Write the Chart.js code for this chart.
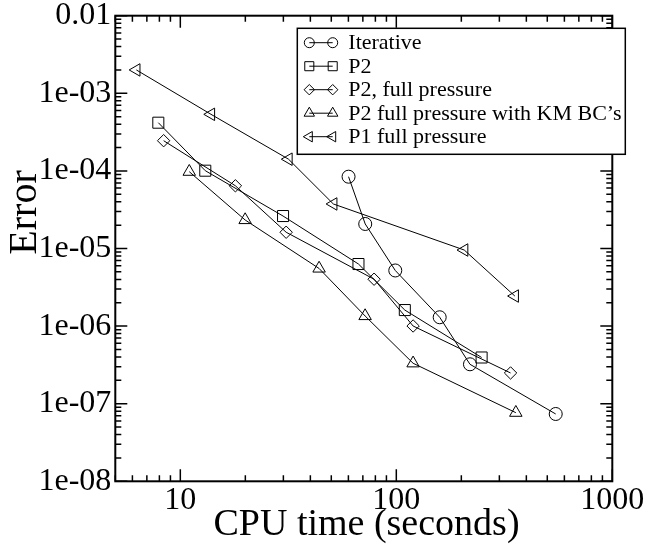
<!DOCTYPE html>
<html><head><meta charset="utf-8">
<script src="https://cdn.jsdelivr.net/npm/chart.js@4/dist/chart.umd.min.js"></script>
<style>html,body{margin:0;padding:0;background:#fff;}canvas{display:block;}</style>
</head><body>
<canvas id="c" width="645" height="550"></canvas>
<script>
// ---- data ----
const seriesNames = ['Iterative', 'P2', 'P2, full pressure', 'P2 full pressure with KM BC\u2019s', 'P1 full pressure'];
const iterX = [60.1, 71.8, 98.9, 158.8, 219.3, 547];
const iterY = [8.42e-5, 2.07e-5, 5.21e-6, 1.30e-6, 3.22e-7, 7.37e-8];
const p2X = [7.91, 13.05, 29.9, 66.8, 109.5, 248.3];
const p2Y = [4.18e-4, 1.006e-4, 2.62e-5, 6.31e-6, 1.61e-6, 3.94e-7];
const p2fX = [8.37, 17.99, 30.9, 78.9, 119.6, 338];
const p2fY = [2.45e-4, 6.43e-5, 1.62e-5, 4.02e-6, 1.003e-6, 2.49e-7];
const kmX = [11.0, 19.96, 43.9, 71.7, 119.6, 357.6];
const kmY = [9.77e-5, 2.33e-5, 5.53e-6, 1.35e-6, 3.32e-7, 7.66e-8];
const p1X = [6.26, 13.87, 31.7, 51.1, 206.3, 353.8];
const p1Y = [2.0e-3, 5.36e-4, 1.415e-4, 3.75e-5, 9.56e-6, 2.44e-6];

const xTickValues = [10, 100, 1000];
const xTickLabels = ['10', '100', '1000'];
const yTickValues = [1e-8, 1e-7, 1e-6, 1e-5, 1e-4, 1e-3, 1e-2];
const yTickLabels = ['1e-08', '1e-07', '1e-06', '1e-05', '1e-04', '1e-03', '0.01'];
const xTitle = 'CPU time (seconds)';
const yTitle = 'Error';

const FONT = "'Liberation Serif', 'Times New Roman', serif";

const markerStyles = [
  {style: 'circle', r: 6.5, rot: 0, lr: 5},
  {style: 'rect', r: 7.8, rot: 0, lr: 6.4},
  {style: 'rectRot', r: 6.2, rot: 0, lr: 5.2},
  {style: 'triangle', r: 7.2, rot: 0, lr: 6},
  {style: 'triangle', r: 7.2, rot: -90, lr: 6}
];
const xs = [iterX, p2X, p2fX, kmX, p1X];
const ys = [iterY, p2Y, p2fY, kmY, p1Y];

const datasets = seriesNames.map((name, k) => ({
  label: name,
  data: xs[k].map((x, i) => ({x: x, y: ys[k][i]})),
  showLine: true,
  borderColor: '#000',
  borderWidth: 1,
  pointStyle: markerStyles[k].style,
  pointRadius: markerStyles[k].r,
  pointHoverRadius: markerStyles[k].r,
  pointRotation: markerStyles[k].rot,
  pointBorderWidth: 1,
  pointBorderColor: '#000',
  pointBackgroundColor: 'rgba(0,0,0,0)',
  fill: false,
  tension: 0
}));

function drawMarker(ctx, style, x, y, r, rotDeg) {
  const rad = rotDeg * Math.PI / 180;
  ctx.beginPath();
  if (style === 'circle') {
    ctx.arc(x, y, r, 0, Math.PI * 2);
  } else if (style === 'rect') {
    const s = Math.SQRT1_2 * r;
    ctx.rect(x - s, y - s, 2 * s, 2 * s);
  } else if (style === 'rectRot') {
    ctx.moveTo(x - r, y); ctx.lineTo(x, y - r); ctx.lineTo(x + r, y); ctx.lineTo(x, y + r); ctx.closePath();
  } else if (style === 'triangle') {
    let a = rad;
    ctx.moveTo(x + Math.sin(a) * r, y - Math.cos(a) * r);
    a += 2 * Math.PI / 3;
    ctx.lineTo(x + Math.sin(a) * r, y - Math.cos(a) * r);
    a += 2 * Math.PI / 3;
    ctx.lineTo(x + Math.sin(a) * r, y - Math.cos(a) * r);
    ctx.closePath();
  }
  ctx.stroke();
}

const framePlugin = {
  id: 'frame',
  afterDraw(chart) {
    const ctx = chart.ctx;
    const a = chart.chartArea;
    const sx = chart.scales.x, sy = chart.scales.y;
    ctx.save();
    ctx.strokeStyle = '#000';
    // ticks
    ctx.lineWidth = 1.5;
    const xMin = sx.min, xMax = sx.max;
    for (let d = 1; d <= 1000; d *= 10) {
      for (let m = 1; m <= 9; m++) {
        const v = d * m;
        if (v < xMin - 1e-9 || v > xMax + 1e-9) continue;
        const px = sx.getPixelForValue(v);
        const len = m === 1 ? 12 : 6;
        ctx.beginPath();
        ctx.moveTo(px, a.bottom); ctx.lineTo(px, a.bottom - len);
        ctx.moveTo(px, a.top); ctx.lineTo(px, a.top + len);
        ctx.stroke();
      }
    }
    for (let e = -8; e <= -2; e++) {
      for (let m = 1; m <= 9; m++) {
        const v = m * Math.pow(10, e);
        if (v > sy.max * 1.0001) continue;
        const py = sy.getPixelForValue(v);
        const len = m === 1 ? 12 : 6;
        ctx.beginPath();
        ctx.moveTo(a.left, py); ctx.lineTo(a.left + len, py);
        ctx.moveTo(a.right, py); ctx.lineTo(a.right - len, py);
        ctx.stroke();
      }
    }
    // frame
    ctx.lineWidth = 2;
    ctx.strokeRect(a.left, a.top, a.right - a.left, a.bottom - a.top);

    // axis titles
    ctx.fillStyle = '#000';
    ctx.font = '38px ' + FONT;
    ctx.textAlign = 'center';
    ctx.textBaseline = 'alphabetic';
    ctx.fillText(xTitle, 366.5, 535);
    ctx.save();
    ctx.translate(36, 212.5);
    ctx.rotate(-Math.PI / 2);
    ctx.font = '40px ' + FONT;
    ctx.fillText(yTitle, 0, 0);
    ctx.restore();

    // legend
    const lx = 297.3, ly = 28.3, lw = 328, lh = 126;
    ctx.fillStyle = '#fff';
    ctx.fillRect(lx, ly, lw, lh);
    ctx.lineWidth = 1.5;
    ctx.strokeRect(lx, ly, lw, lh);
    ctx.font = '22px ' + FONT;
    ctx.textAlign = 'left';
    ctx.textBaseline = 'middle';
    chart.data.datasets.forEach((ds, i) => {
      const yy = 42.7 + i * 23.5;
      const ms = markerStyles[i];
      ctx.lineWidth = 1;
      ctx.beginPath();
      ctx.moveTo(309.3, yy); ctx.lineTo(332.7, yy);
      ctx.stroke();
      drawMarker(ctx, ms.style, 309.3, yy, ms.lr, ms.rot);
      drawMarker(ctx, ms.style, 332.7, yy, ms.lr, ms.rot);
      ctx.fillStyle = '#000';
      ctx.fillText(ds.label, 348.3, yy + 1);
    });
    ctx.restore();
  }
};

new Chart(document.getElementById('c'), {
  type: 'scatter',
  data: {datasets: datasets},
  plugins: [framePlugin],
  options: {
    responsive: false,
    devicePixelRatio: 1,
    animation: false,
    layout: {padding: {left: 0, right: 32.7, top: 15.7, bottom: 0}},
    plugins: {legend: {display: false}, tooltip: {enabled: false}, title: {display: false}},
    scales: {
      x: {
        type: 'logarithmic', position: 'bottom', min: 5, max: 1000,
        grid: {display: false, drawTicks: false},
        border: {display: false},
        ticks: {
          autoSkip: false, maxRotation: 0, minRotation: 0, color: '#000', padding: 3,
          font: {family: FONT, size: 32, lineHeight: 1},
          callback: (v, i) => xTickLabels[i]
        },
        afterBuildTicks: s => { s.ticks = xTickValues.map(v => ({value: v})); },
        afterFit: s => { s.height = 68.7; s.paddingLeft = 0; s.paddingRight = 0; }
      },
      y: {
        type: 'logarithmic', position: 'left', min: 1e-8, max: 1e-2,
        grid: {display: false, drawTicks: false},
        border: {display: false},
        ticks: {
          autoSkip: false, color: '#000', padding: 4,
          font: {family: FONT, size: 32, lineHeight: 1},
          callback: (v, i) => yTickLabels[i]
        },
        afterBuildTicks: s => { s.ticks = yTickValues.map(v => ({value: v})); },
        afterFit: s => { s.width = 115.3; s.paddingTop = 0; s.paddingBottom = 0; }
      }
    }
  }
});
</script>
</body></html>
